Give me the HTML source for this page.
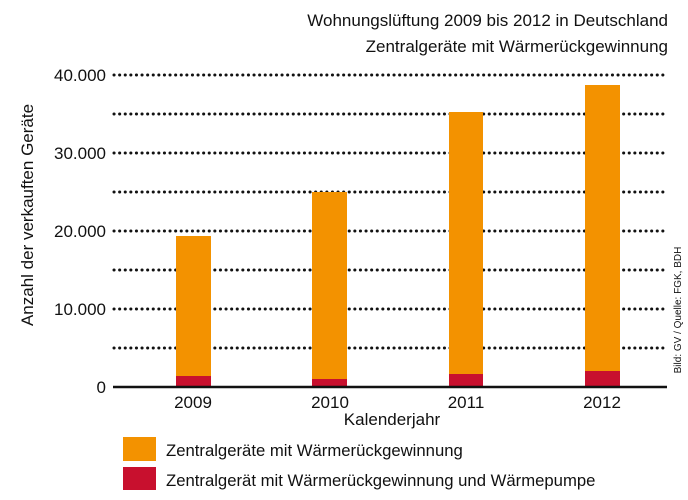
<!DOCTYPE html>
<html><head><meta charset="utf-8"><style>
body{margin:0;background:#fff;}
svg{display:block;font-family:"Liberation Sans",sans-serif;}
</style></head><body>
<svg width="688" height="500" viewBox="0 0 688 500">
<text x="668" y="26" font-size="17" text-anchor="end" fill="#111">Wohnungslüftung 2009 bis 2012 in Deutschland</text>
<text x="668" y="52" font-size="17" text-anchor="end" fill="#111">Zentralgeräte mit Wärmerückgewinnung</text>
<g stroke="#111" stroke-width="3" stroke-dasharray="0.1 5.5" stroke-linecap="round">
<line x1="114" y1="75" x2="666" y2="75"/>
<line x1="114" y1="114" x2="666" y2="114"/>
<line x1="114" y1="153" x2="666" y2="153"/>
<line x1="114" y1="192" x2="666" y2="192"/>
<line x1="114" y1="231" x2="666" y2="231"/>
<line x1="114" y1="270" x2="666" y2="270"/>
<line x1="114" y1="309" x2="666" y2="309"/>
<line x1="114" y1="348" x2="666" y2="348"/>
</g>
<g font-size="17" text-anchor="end" fill="#111">
<text x="106" y="81">40.000</text>
<text x="106" y="159">30.000</text>
<text x="106" y="237">20.000</text>
<text x="106" y="315">10.000</text>
<text x="106" y="393">0</text>
</g>
<g fill="#f39200">
<rect x="176" y="236" width="35" height="151"/>
<rect x="312" y="192" width="35" height="195"/>
<rect x="449" y="112" width="34" height="275"/>
<rect x="585" y="85" width="35" height="302"/>
</g>
<g fill="#c8102e">
<rect x="176" y="376" width="35" height="11"/>
<rect x="312" y="379" width="35" height="8"/>
<rect x="449" y="374" width="34" height="13"/>
<rect x="585" y="371" width="35" height="16"/>
</g>
<line x1="113" y1="387" x2="667" y2="387" stroke="#111" stroke-width="2.5"/>
<g font-size="17" text-anchor="middle" fill="#111">
<text x="193" y="408">2009</text>
<text x="330" y="408">2010</text>
<text x="466" y="408">2011</text>
<text x="602" y="408">2012</text>
<text x="392" y="425">Kalenderjahr</text>
</g>
<text transform="translate(33,215) rotate(-90)" font-size="17" text-anchor="middle" fill="#111">Anzahl der verkauften Geräte</text>
<text transform="translate(681,310) rotate(-90)" font-size="10" text-anchor="middle" fill="#111">Bild: GV / Quelle: FGK, BDH</text>
<rect x="123" y="437" width="33" height="24" fill="#f39200"/>
<rect x="123" y="467" width="33" height="23" fill="#c8102e"/>
<text x="166" y="456" font-size="16.7" fill="#111">Zentralgeräte mit Wärmerückgewinnung</text>
<text x="166" y="486" font-size="16.7" fill="#111">Zentralgerät mit Wärmerückgewinnung und Wärmepumpe</text>
</svg>
</body></html>
